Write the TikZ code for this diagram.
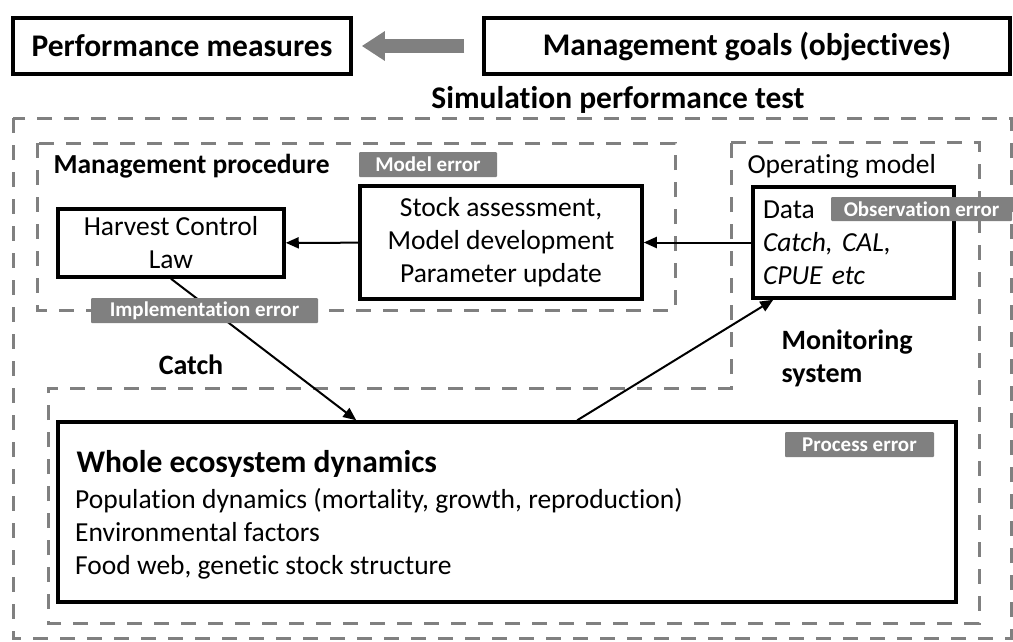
\documentclass[tikz,border=0pt]{standalone}
\usepackage{fontspec}
\setmainfont{Carlito}[Ligatures=NoCommon,ItalicFeatures={WordSpace=0.7}]
\usetikzlibrary{arrows.meta}
\definecolor{framegray}{RGB}{128,128,128}

\begin{document}
\begin{tikzpicture}[x=1pt,y=-1pt,
    blockbox/.style={draw,line width=3.5pt,inner sep=0pt},
    dashbox/.style={draw=framegray,line width=3pt,dash pattern=on 15pt off 12pt},
    errlabel/.style={fill=framegray,text=white,inner sep=0pt,rounded corners=1pt,font=\fontsize{21}{25}\selectfont\bfseries},
    headtext/.style={font=\fontsize{31.5}{37}\selectfont\bfseries},
    boldtext/.style={font=\fontsize{28}{33}\selectfont\bfseries},
    bodytext/.style={font=\fontsize{27.5}{33}\selectfont},
    arr/.style={line width=2pt,-{Triangle[length=13pt,width=11pt]}}]
    \useasboundingbox (0,0) rectangle (1013,641);
    % top row
    \node[blockbox,headtext,minimum width=338pt,minimum height=56pt] (perf) at (182,46) {Performance measures};
    \node[blockbox,headtext,minimum width=526pt,minimum height=56pt] (goals) at (747,46) {Management goals (objectives)};
    \draw[line width=14pt,framegray,-{Triangle[length=23pt,width=28pt]}] ([xshift=-18pt]goals.west) -- ([xshift=9pt]perf.east);
    \node[font=\fontsize{31.5}{37}\selectfont\bfseries] (simtest) at (618,100) {Simulation performance test};
    % dashed frames
    \draw[dashbox] (13,118) rectangle (1011,638);
    \draw[dashbox] (37,143) rectangle (675,310);
    \draw[dashbox] (731,142) -- (979,142) -- (979,623) -- (48,623) -- (48,388) -- (731,388) -- cycle;
    % management procedure
    \node[anchor=west,font=\fontsize{27.5}{33}\selectfont\bfseries] (mptitle) at (50,166) {Management procedure};
    \node[blockbox,bodytext,align=center,minimum width=226pt,minimum height=68pt] (hcl) at (171,243) {Harvest Control\\Law};
    \node[blockbox,bodytext,align=center,minimum width=282pt,minimum height=113pt] (stock) at (501,242.5) {Stock assessment,\\Model development\\Parameter update};
    % operating model
    \node[anchor=west,font=\fontsize{27.5}{33}\selectfont] (omtitle) at (744,166) {Operating model};
    \node[blockbox,bodytext,align=left,text width=181pt,minimum width=201pt,minimum height=111pt] (data) at (853.5,242.5) {Data\\\textit{Catch, CAL,}\\\textit{CPUE etc}};
    \node[boldtext] (catchlbl) at (191,365) {Catch};
    \node[boldtext,anchor=west,align=left] (monlbl) at (778,358) {Monitoring\\system};
    % ecosystem
    \node[blockbox,minimum width=898pt,minimum height=180pt] (eco) at (507,512) {};
    \node[font=\fontsize{31.5}{37}\selectfont\bfseries,anchor=base west] (ecotitle) at (73,472) {Whole ecosystem dynamics};
    \node[bodytext,anchor=north west,align=left,inner sep=0pt] (ecobody) at (75,488) {Population dynamics (mortality, growth, reproduction)\\Environmental factors\\Food web, genetic stock structure};
    % connectors
    \draw[arr] (data) -- (stock);
    \draw[arr] (stock) -- (hcl);
    \draw[arr] (hcl.south) -- ([xshift=300pt]eco.north west);
    \draw[arr] ([xshift=521pt]eco.north west) -- ([xshift=22pt]data.south west);
    % error labels
    \node[errlabel,minimum width=138pt,minimum height=25pt] (modelerr) at (428,164.5) {Model error};
    \node[errlabel,minimum width=181pt,minimum height=24pt] (obserr) at (921.5,209) {Observation error};
    \node[errlabel,minimum width=227pt,minimum height=25pt] (imperr) at (204.5,310.5) {Implementation error};
    \node[errlabel,minimum width=149pt,minimum height=25pt] (procerr) at (859.5,444.5) {Process error};
\end{tikzpicture}
\end{document}
